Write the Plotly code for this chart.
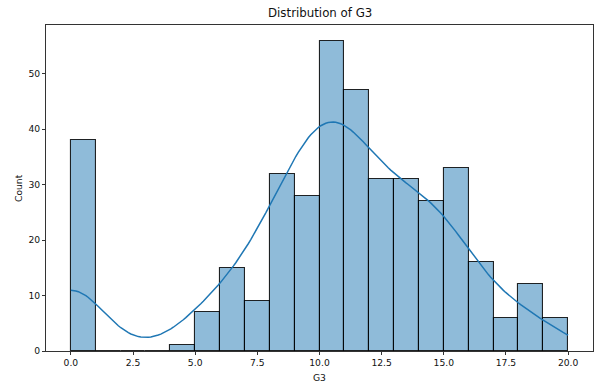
import numpy as np
import plotly.graph_objects as go

# Histogram bins (G3, bin width 1 from 0 to 20)
bin_left = list(range(0, 20))
bin_counts = [38, 0, 0, 0, 1, 7, 15, 9, 32, 28, 56, 47, 31, 31, 27, 33, 16, 6, 12, 6]

# Underlying grade values and frequencies (used for KDE)
grade_values = [0, 4, 5, 6, 7, 8, 9, 10, 11, 12, 13, 14, 15, 16, 17, 18, 19, 20]
grade_freq = [38, 1, 7, 15, 9, 32, 28, 56, 47, 31, 31, 27, 33, 16, 6, 12, 5, 1]

x_ticks = [0.0, 2.5, 5.0, 7.5, 10.0, 12.5, 15.0, 17.5, 20.0]
y_ticks = [0, 10, 20, 30, 40, 50]

# Gaussian KDE (Scott's rule) scaled to counts
vals = np.array(grade_values, dtype=float)
w = np.array(grade_freq, dtype=float)
n = w.sum()
mean = np.sum(vals * w) / n
var = np.sum(w * (vals - mean) ** 2) / (n - 1)
bw = np.sqrt(var) * n ** (-1 / 5)
grid = np.linspace(0, 20, 200)
dens = np.sum(w[None, :] * np.exp(-0.5 * ((grid[:, None] - vals[None, :]) / bw) ** 2), axis=1) / (n * bw * np.sqrt(2 * np.pi))
kde = dens * n * 1.0

fig = go.Figure()
fig.add_trace(go.Bar(
    x=[b + 0.5 for b in bin_left], y=bin_counts, width=1.0,
    marker=dict(color="rgba(31,119,180,0.5)", line=dict(color="rgba(0,0,0,0.85)", width=1.1)),
    hoverinfo="skip", showlegend=False,
))
fig.add_trace(go.Scatter(
    x=grid, y=kde, mode="lines", line=dict(color="#1f77b4", width=1.5),
    hoverinfo="skip", showlegend=False,
))

font = "DejaVu Sans"
fig.update_layout(
    width=594, height=387,
    margin=dict(l=46, r=1, t=25, b=36),
    paper_bgcolor="white", plot_bgcolor="white",
    font=dict(family=font, size=9.2, color="#111"),
    bargap=0,
    xaxis=dict(range=[-1, 21], tickvals=x_ticks, ticktext=[f"{t:.1f}" for t in x_ticks],
               showgrid=False, zeroline=False, showline=True, linecolor="#333", linewidth=1,
               mirror=True, ticks="outside", ticklen=3, tickcolor="#333"),
    yaxis=dict(range=[0, 58.8], tickvals=y_ticks, showgrid=False, zeroline=False,
               showline=True, linecolor="#333", linewidth=1, mirror=True,
               ticks="outside", ticklen=3, tickcolor="#333"),
    annotations=[
        dict(text="Distribution of G3", xref="paper", yref="paper", x=0.5, y=1,
             yanchor="bottom", yshift=3, showarrow=False, font=dict(size=11.8, family=font, color="#111")),
        dict(text="G3", xref="paper", yref="paper", x=0.5, y=0, yanchor="middle",
             yshift=-26, showarrow=False, font=dict(size=9.2, family=font, color="#111")),
        dict(text="Count", xref="paper", yref="paper", x=0, y=0.5, xanchor="center",
             xshift=-28, textangle=-90, showarrow=False, font=dict(size=9.2, family=font, color="#111")),
    ],
)
fig.write_html("out.html")
